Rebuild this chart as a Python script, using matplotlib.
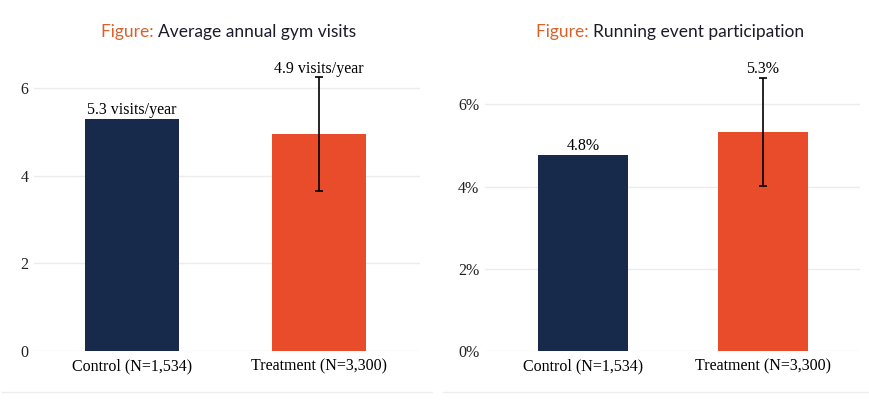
import matplotlib
matplotlib.use("Agg")
import matplotlib.pyplot as plt

# data
groups = ["Control (N=1,534)", "Treatment (N=3,300)"]
gym_visits = [5.29, 4.95]
gym_err = [None, 1.29]
gym_labels = ["5.3 visits/year", "4.9 visits/year"]

running_pct = [4.77, 5.33]
running_err = [None, 1.32]
running_labels = ["4.8%", "5.3%"]

NAVY = "#172A4C"
ORANGE = "#E84C2A"
TITLE_ORANGE = "#D9622B"
GRID = "#ECECEC"
SERIF = ["Liberation Serif", "DejaVu Serif"]

W, H = 869, 409
fig = plt.figure(figsize=(W / 100, H / 100), dpi=100)


def px_axes(x0, y0, x1, y1):
    return fig.add_axes([x0 / W, 1 - y1 / H, (x1 - x0) / W, (y1 - y0) / H])


def draw_panel(ax, values, errs, labels, ylim, yticks, yticklabels, xlim):
    colors = [NAVY, ORANGE]
    xs = range(len(values))
    ax.bar(xs, values, width=0.5, color=colors, zorder=2)
    for x, v, e, lab in zip(xs, values, errs, labels):
        top = v
        if e is not None:
            ax.errorbar(x, v, yerr=e, color="black", lw=1.2, capsize=3,
                        capthick=1.2, zorder=3)
            top = v + e
        ax.annotate(lab, (x, top), xytext=(0, 0.5), textcoords="offset points",
                    ha="center", va="bottom", fontsize=11.5, family=SERIF,
                    color="black")
    ax.set_xlim(*xlim)
    ax.set_ylim(*ylim)
    ax.set_yticks(yticks)
    ax.set_yticklabels(yticklabels, family=SERIF, fontsize=11.5, color="#222222")
    ax.set_xticks(list(xs))
    ax.set_xticklabels(groups, family=SERIF, fontsize=11.5, color="black")
    ax.tick_params(length=0)
    ax.tick_params(axis="x", pad=5)
    ax.tick_params(axis="y", pad=4)
    for s in ax.spines.values():
        s.set_visible(False)
    ax.grid(axis="y", color=GRID, lw=1, zorder=0)
    ax.set_axisbelow(True)


ax1 = px_axes(34, 55, 420, 351)
draw_panel(ax1, gym_visits, gym_err, gym_labels, (0, 6.75), [0, 2, 4, 6],
           ["0", "2", "4", "6"], (-0.525, 1.54))

ax2 = px_axes(485, 55, 860, 351)
draw_panel(ax2, running_pct, running_err, running_labels, (0, 7.2), [0, 2, 4, 6],
           ["0%", "2%", "4%", "6%"], (-0.545, 1.54))


def two_color_title(cx, cy, first, rest):
    r = fig.canvas.get_renderer()
    t1 = fig.text(0, cy / H, first, color=TITLE_ORANGE, family="Lato",
                  fontsize=12.5, va="center")
    t2 = fig.text(0, cy / H, rest, color="#1B1B2A", family="Lato",
                  fontsize=12.5, va="center")
    w1 = t1.get_window_extent(r).width
    w2 = t2.get_window_extent(r).width
    start = cx - (w1 + w2) / 2
    t1.set_x(start / W)
    t2.set_x((start + w1) / W)


two_color_title(229, H - 32, "Figure: ", "Average annual gym visits")
two_color_title(670, H - 32, "Figure: ", "Running event participation")

# thin separators at the bottom of each panel
fig.add_artist(plt.Line2D([2 / W, 432 / W], [1 - 392 / H] * 2, color="#EEEEEE", lw=1))
fig.add_artist(plt.Line2D([443 / W, 868 / W], [1 - 392 / H] * 2, color="#EEEEEE", lw=1))

fig.savefig("out.png", dpi=100)
